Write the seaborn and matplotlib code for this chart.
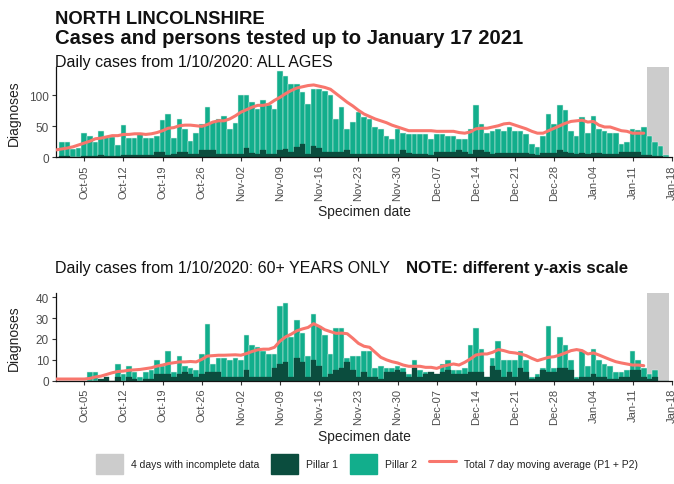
import matplotlib
matplotlib.use("Agg")
import matplotlib.pyplot as plt
import matplotlib.dates as mdates
from matplotlib.patches import Patch
from matplotlib.lines import Line2D
import pandas as pd
import seaborn as sns

# Specimen dates shown as bars, and dates covered by the moving-average line
days = pd.date_range("2020-10-01", "2021-01-17", freq="D")
avg_days = pd.date_range("2020-09-30", "2021-01-13", freq="D")
incomplete_from = pd.Timestamp("2021-01-14")
tick_days = pd.date_range("2020-10-05", "2021-01-18", freq="7D")

# All ages: daily total (Pillar 1 + Pillar 2) and Pillar 1 cases
all_total = [25, 25, 14, 15, 40, 34, 25, 43, 35, 33,
             20, 52, 31, 31, 40, 31, 32, 35, 61, 70,
             32, 62, 46, 27, 39, 54, 81, 57, 62, 67,
             46, 55, 101, 100, 89, 78, 92, 84, 78, 139,
             132, 119, 119, 105, 86, 111, 111, 108, 100, 62,
             81, 46, 57, 73, 65, 62, 49, 46, 34, 30,
             45, 40, 38, 38, 38, 38, 30, 37, 37, 35,
             35, 30, 30, 45, 84, 54, 40, 42, 46, 42,
             49, 43, 43, 38, 22, 16, 34, 70, 54, 84,
             76, 43, 35, 65, 40, 66, 46, 42, 40, 40,
             22, 24, 46, 44, 49, 34, 24, 19, 4]
all_p1 = [2, 2, 1, 1, 2, 2, 2, 3, 2, 2,
          2, 3, 3, 3, 4, 3, 3, 9, 9, 4,
          5, 8, 8, 5, 5, 12, 12, 12, 5, 5,
          5, 5, 6, 15, 7, 5, 11, 5, 5, 12,
          13, 9, 16, 21, 5, 19, 15, 9, 9, 9,
          8, 12, 5, 5, 5, 5, 5, 5, 5, 5,
          6, 12, 7, 5, 5, 5, 4, 9, 9, 9,
          9, 12, 8, 5, 12, 12, 9, 5, 7, 7,
          7, 7, 7, 7, 5, 4, 7, 7, 7, 11,
          8, 7, 5, 7, 5, 7, 7, 5, 5, 5,
          8, 8, 8, 8, 4, 3, 2, 2, 1]
all_avg = [12, 13.5, 15, 17, 20, 23, 26, 30, 31, 33, 35,
           35, 37, 37, 38, 38, 37, 38, 40, 43, 47,
           48, 51, 52, 52, 51, 50, 53, 57, 59, 59,
           62, 67, 73, 77, 81, 84, 84, 86, 92, 97,
           103, 108, 112, 114, 116, 117, 115, 113, 110, 103,
           96, 89, 83, 76, 70, 66, 62, 59, 56, 52,
           49, 46, 43, 43, 43, 43, 43, 42, 42, 42,
           42, 40, 39, 41, 46, 47, 47, 49, 51, 54,
           55, 52, 49, 46, 42, 39, 39, 43, 47, 51,
           55, 58, 59, 60, 57, 58, 52, 49, 49, 46,
           43, 42, 39, 39, 39]

# 60+ years: daily total (Pillar 1 + Pillar 2) and Pillar 1 cases
old_total = [0, 0, 0, 0, 0, 4, 4, 1, 2, 0,
             8, 3, 7, 4, 2, 4, 5, 10, 7, 14,
             4, 12, 7, 6, 5, 13, 27, 8, 11, 11,
             10, 11, 10, 22, 17, 16, 14, 13, 13, 36,
             37, 21, 29, 23, 12, 32, 26, 22, 13, 25,
             25, 11, 12, 12, 14, 14, 6, 7, 6, 6,
             7, 6, 3, 10, 5, 4, 4, 3, 8, 10,
             5, 5, 6, 17, 25, 15, 2, 11, 19, 10,
             10, 10, 14, 10, 2, 3, 6, 26, 6, 21,
             17, 10, 2, 14, 7, 15, 10, 8, 7, 4,
             4, 5, 14, 10, 6, 3, 5, 0, 0]
old_p1 = [0, 0, 0, 0, 0, 0, 0, 1, 2, 0,
          2, 0, 2, 1, 0, 1, 1, 3, 3, 3,
          2, 3, 4, 3, 2, 3, 4, 4, 4, 2,
          2, 2, 2, 5, 2, 2, 2, 2, 6, 8,
          9, 2, 11, 9, 2, 10, 7, 2, 3, 5,
          6, 9, 5, 2, 4, 2, 2, 1, 4, 4,
          5, 4, 2, 6, 2, 3, 4, 3, 4, 5,
          3, 3, 3, 4, 4, 4, 2, 7, 5, 2,
          4, 2, 6, 4, 1, 2, 5, 4, 4, 6,
          6, 5, 1, 2, 2, 3, 2, 2, 1, 1,
          2, 2, 5, 5, 2, 1, 2, 0, 0]
old_avg = [0.8, 0.8, 0.8, 0.8, 0.8, 0.8, 1.1, 1.8, 2.2, 3, 3.8,
           4.4, 4.6, 5, 5.2, 5.4, 5.8, 6.2, 7, 7.5, 8.2,
           8.6, 9, 9, 9.2, 9, 10.2, 11.8, 12, 12.2, 12.2,
           12.3, 12.4, 12.2, 13, 14, 14.8, 15.1, 15.1, 16, 19,
           21, 22.3, 23.9, 24.8, 25.5, 27.3, 26, 24.4, 23.5, 22.7,
           22.8, 22.5, 20.3, 17.9, 16.5, 16, 13.6, 11.2, 10, 9.1,
           8.5, 7.5, 6.9, 6.9, 6.9, 6.4, 6.4, 5.9, 6.9, 7.5,
           8, 7.5, 8.8, 10.4, 12.3, 12.8, 12.8, 13.6, 14.9, 14.4,
           13.6, 13.3, 12.8, 12, 10.7, 9.6, 10.4, 11.2, 11.5, 12.3,
           13.3, 14.4, 14.9, 14.4, 12.8, 13.3, 12.3, 11.2, 10.1, 9.1,
           8.5, 8, 7.5, 7.5, 7.2]

TEAL = "#12ae8c"
DARK = "#0b4d3e"
RED = "#f8766d"
GREY = "#cccccc"
EDGE = "#dcefe9"
TXT = "#4d4d4d"

sns.set_theme(style="ticks")
plt.rcParams["font.family"] = ["Liberation Sans", "DejaVu Sans"]

W, H = 674, 485
fig = plt.figure(figsize=(W / 100, H / 100), dpi=100)


def px_axes(left, top, right, bottom):
    return fig.add_axes([left / W, 1 - bottom / H, (right - left) / W, (bottom - top) / H])


ax_top = px_axes(56, 68, 672, 158.3)
ax_bot = px_axes(56, 294, 672, 381.7)


def draw_panel(ax, total, p1, avg, ymax, yticks):
    xnum = mdates.date2num(days)
    bars = pd.DataFrame({"day": xnum, "total": total, "p1": p1})
    line = pd.DataFrame({"day": mdates.date2num(avg_days), "avg": avg})

    ax.axvspan(mdates.date2num(incomplete_from) - 0.5, xnum[-1] + 0.5,
               color=GREY, lw=0, zorder=0)
    sns.barplot(data=bars, x="day", y="total", native_scale=True, width=1.0,
                color=TEAL, saturation=1, edgecolor=EDGE, linewidth=0.35,
                errorbar=None, ax=ax, zorder=1)
    sns.barplot(data=bars, x="day", y="p1", native_scale=True, width=1.0,
                color=DARK, saturation=1, edgecolor=DARK, linewidth=0.2,
                errorbar=None, ax=ax, zorder=1)
    sns.lineplot(data=line, x="day", y="avg", color=RED, lw=2.2, ax=ax, zorder=3)

    ax.set_xlim(mdates.date2num(pd.Timestamp("2020-09-30")) - 0.05,
                mdates.date2num(pd.Timestamp("2021-01-18")) + 0.05)
    ax.set_ylim(0, ymax)
    ax.set_yticks(yticks)
    ax.set_yticklabels([str(v) for v in yticks], fontsize=8.5, color=TXT)
    ax.set_xticks(mdates.date2num(tick_days))
    ax.set_xticklabels([d.strftime("%b-%d") for d in tick_days],
                       rotation=90, fontsize=8, color=TXT)
    ax.tick_params(axis="both", length=3, width=0.8, color="#333333", pad=2)
    ax.set_xlabel("")
    ax.set_ylabel("Diagnoses", fontsize=10, color="#222222")
    ax.yaxis.set_label_coords(-0.057, 0.5)
    for side in ("top", "right"):
        ax.spines[side].set_visible(False)
    for side in ("left", "bottom"):
        ax.spines[side].set_linewidth(0.9)
        ax.spines[side].set_color("#111111")


draw_panel(ax_top, all_total, all_p1, all_avg, 146, [0, 50, 100])
draw_panel(ax_bot, old_total, old_p1, old_avg, 42, [0, 10, 20, 30, 40])

# Titles and panel headings
fig.text(55 / W, 1 - 24 / H, "NORTH LINCOLNSHIRE", fontsize=13.3,
         fontweight="bold", va="baseline", color="#111111")
fig.text(55 / W, 1 - 43.5 / H, "Cases and persons tested up to January 17 2021",
         fontsize=14.6, fontweight="bold", va="baseline", color="#111111")
fig.text(55 / W, 1 - 67 / H, "Daily cases from 1/10/2020: ALL AGES",
         fontsize=11.5, va="baseline", color="#111111")
fig.text(55 / W, 1 - 273 / H, "Daily cases from 1/10/2020: 60+ YEARS ONLY",
         fontsize=11.5, va="baseline", color="#111111")
fig.text(406 / W, 1 - 273 / H, "NOTE: different y-axis scale",
         fontsize=12.1, fontweight="bold", va="baseline", color="#111111")

fig.text(364 / W, 1 - 212 / H, "Specimen date", fontsize=10,
         ha="center", va="center", color="#222222")
fig.text(364 / W, 1 - 437 / H, "Specimen date", fontsize=10,
         ha="center", va="center", color="#222222")

handles = [
    Patch(facecolor=GREY, edgecolor=GREY),
    Patch(facecolor=DARK, edgecolor=DARK),
    Patch(facecolor=TEAL, edgecolor=TEAL),
    Line2D([0], [0], color=RED, lw=2.2),
]
labels = ["4 days with incomplete data", "Pillar 1", "Pillar 2",
          "Total 7 day moving average (P1 + P2)"]
fig.legend(handles, labels, loc="center", bbox_to_anchor=(367 / W, 1 - 465 / H),
           ncol=4, frameon=False, fontsize=7.5, handlelength=2.6,
           handleheight=2.6, columnspacing=1.1, handletextpad=0.8,
           labelcolor="#222222")

fig.savefig("out.png", dpi=100)
